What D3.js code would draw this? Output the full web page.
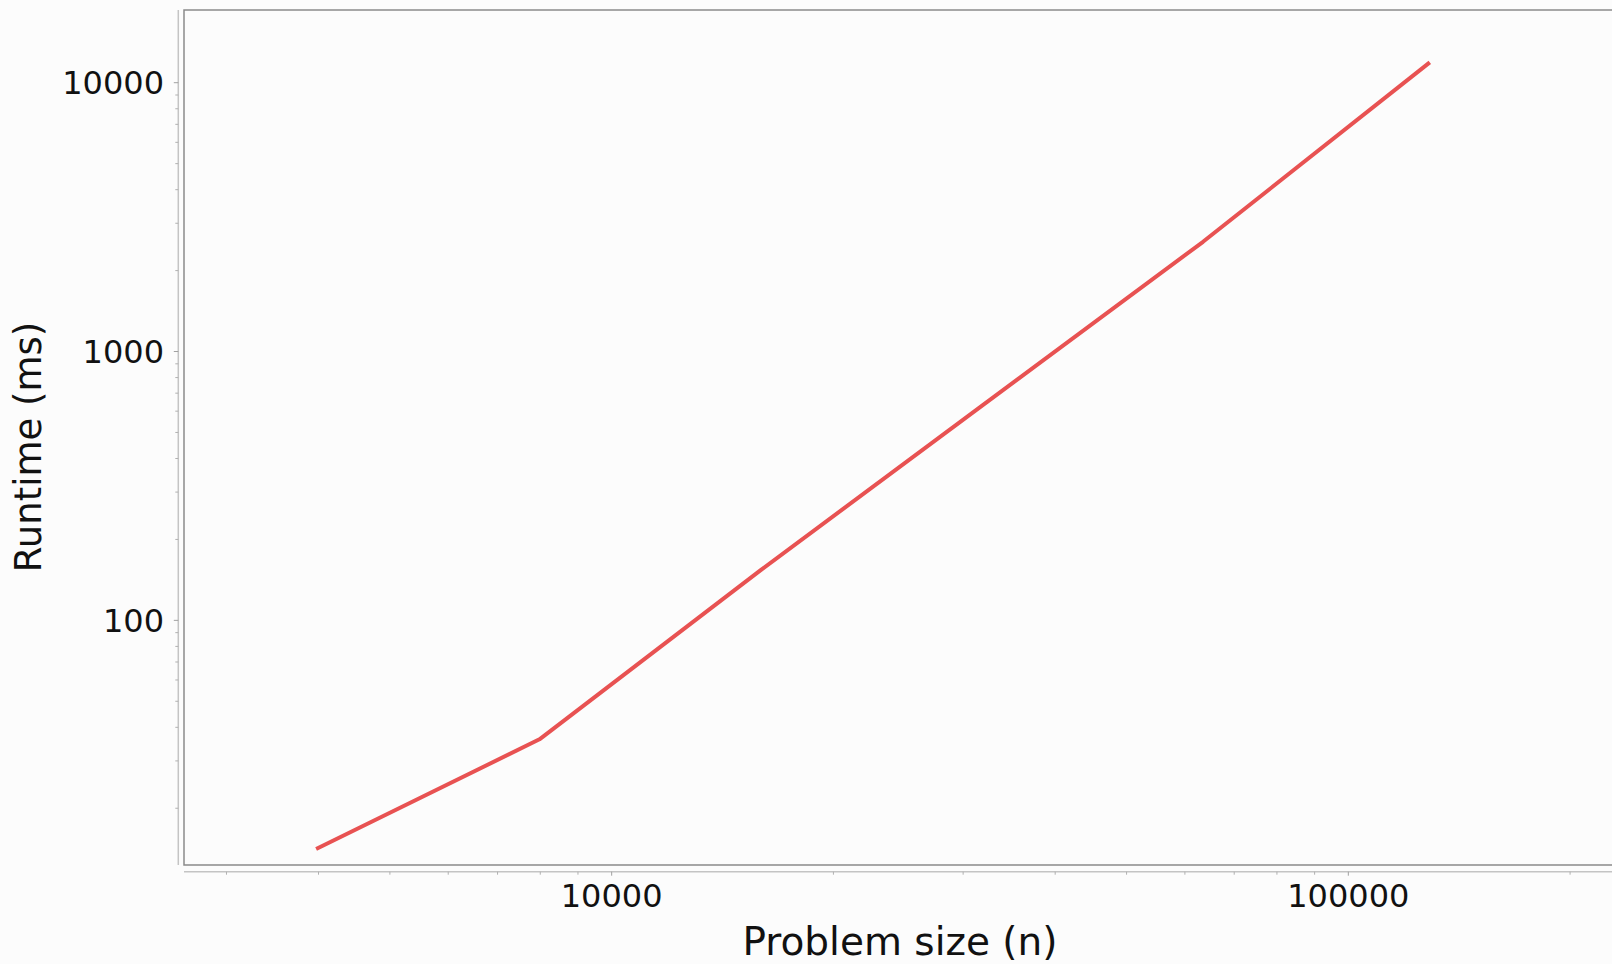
<!DOCTYPE html>
<html>
<head>
  <title>Runtime vs problem size</title>
  <style>
    body {
      margin: 0;
      padding: 0;
      background-color: #fcfcfc;
      overflow: hidden;
    }
    svg text {
      font-family: "DejaVu Sans", sans-serif;
      fill: #111;
    }
  </style>
</head>
<body>
  <svg id="chart" width="1612" height="964"></svg>

  <script src="https://cdnjs.cloudflare.com/ajax/libs/d3/7.8.5/d3.min.js"></script>
  <script>
    // data
    var problemSize = [3970, 7980, 15950, 31900, 63500, 129000];
    var runtimeMs = [14.1, 36.1, 154, 632, 2560, 11900];

    var xMajorTicks = [10000, 100000];
    var yMajorTicks = [100, 1000, 10000];

    var xLabel = "Problem size (n)";
    var yLabel = "Runtime (ms)";

    var width = 1612, height = 964;
    var plotLeft = 184, plotRight = 1612, plotTop = 10, plotBottom = 865;

    var svg = d3.select("#chart");

    svg.append("rect")
      .attr("width", width)
      .attr("height", height)
      .attr("fill", "#fcfcfc");

    var x = d3.scaleLog()
      .domain([2627, 228000])
      .range([plotLeft, plotRight]);

    var y = d3.scaleLog()
      .domain([12.3, 18640])
      .range([plotBottom, plotTop]);

    // plot frame (right side runs off the page like in the original)
    svg.append("rect")
      .attr("x", plotLeft)
      .attr("y", plotTop)
      .attr("width", plotRight - plotLeft + 20)
      .attr("height", plotBottom - plotTop)
      .attr("fill", "#fcfcfc")
      .attr("stroke", "#8a8a8a")
      .attr("stroke-width", 1.5);

    // x axis
    var xAxisY = 871.7;
    var xMinor = x.ticks().filter(function (d) { return xMajorTicks.indexOf(d) < 0; });

    var xAxis = svg.append("g");
    xAxis.append("line")
      .attr("x1", plotLeft).attr("x2", width)
      .attr("y1", xAxisY).attr("y2", xAxisY)
      .attr("stroke", "#c4c4c4")
      .attr("stroke-width", 1.5);

    xAxis.selectAll("line.minor")
      .data(xMinor)
      .enter()
      .append("line")
      .attr("class", "minor")
      .attr("x1", function (d) { return x(d); })
      .attr("x2", function (d) { return x(d); })
      .attr("y1", xAxisY)
      .attr("y2", xAxisY + 3)
      .attr("stroke", "#b0b0b0")
      .attr("stroke-width", 1);

    xAxis.selectAll("line.major")
      .data(xMajorTicks)
      .enter()
      .append("line")
      .attr("class", "major")
      .attr("x1", function (d) { return x(d); })
      .attr("x2", function (d) { return x(d); })
      .attr("y1", xAxisY)
      .attr("y2", xAxisY + 4)
      .attr("stroke", "#a0a0a0")
      .attr("stroke-width", 1);

    xAxis.selectAll("text")
      .data(xMajorTicks)
      .enter()
      .append("text")
      .attr("x", function (d) { return x(d); })
      .attr("y", 907)
      .attr("text-anchor", "middle")
      .style("font-size", "32px")
      .text(function (d) { return d; });

    // y axis
    var yAxisX = 178.3;
    var yMinor = y.ticks().filter(function (d) { return yMajorTicks.indexOf(d) < 0; });

    var yAxis = svg.append("g");
    yAxis.append("line")
      .attr("x1", yAxisX).attr("x2", yAxisX)
      .attr("y1", plotTop).attr("y2", plotBottom)
      .attr("stroke", "#c4c4c4")
      .attr("stroke-width", 1.5);

    yAxis.selectAll("line.minor")
      .data(yMinor)
      .enter()
      .append("line")
      .attr("class", "minor")
      .attr("x1", yAxisX - 3)
      .attr("x2", yAxisX)
      .attr("y1", function (d) { return y(d); })
      .attr("y2", function (d) { return y(d); })
      .attr("stroke", "#b0b0b0")
      .attr("stroke-width", 1);

    yAxis.selectAll("line.major")
      .data(yMajorTicks)
      .enter()
      .append("line")
      .attr("class", "major")
      .attr("x1", yAxisX - 4.5)
      .attr("x2", yAxisX)
      .attr("y1", function (d) { return y(d); })
      .attr("y2", function (d) { return y(d); })
      .attr("stroke", "#a0a0a0")
      .attr("stroke-width", 1);

    yAxis.selectAll("text")
      .data(yMajorTicks)
      .enter()
      .append("text")
      .attr("x", 164)
      .attr("y", function (d) { return y(d); })
      .attr("dy", "0.36em")
      .attr("text-anchor", "end")
      .style("font-size", "32px")
      .text(function (d) { return d; });

    // axis titles
    svg.append("text")
      .attr("x", (plotLeft + plotRight) / 2 + 2)
      .attr("y", 955)
      .attr("text-anchor", "middle")
      .style("font-size", "39px")
      .text(xLabel);

    svg.append("text")
      .attr("transform", "translate(41," + 447 + ") rotate(-90)")
      .attr("text-anchor", "middle")
      .style("font-size", "37px")
      .text(yLabel);

    // the series
    var line = d3.line()
      .x(function (d, i) { return x(problemSize[i]); })
      .y(function (d) { return y(d); });

    svg.append("path")
      .datum(runtimeMs)
      .attr("d", line)
      .attr("fill", "none")
      .attr("stroke", "#e85252")
      .attr("stroke-width", 4)
      .attr("stroke-linejoin", "bevel");
  </script>
</body>
</html>
